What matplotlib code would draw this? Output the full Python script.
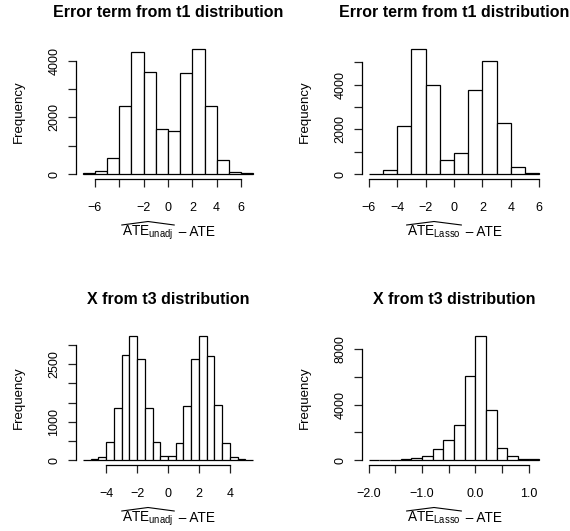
import matplotlib
matplotlib.use("Agg")
import matplotlib.pyplot as plt
from matplotlib.transforms import IdentityTransform
from matplotlib.lines import Line2D
import numpy as np

plt.rcParams['font.family'] = ['Liberation Sans', 'DejaVu Sans']
plt.rcParams['mathtext.fontset'] = 'custom'
plt.rcParams['mathtext.rm'] = 'Liberation Sans'
plt.rcParams['mathtext.it'] = 'Liberation Sans:italic'
plt.rcParams['axes.unicode_minus'] = True

# panel 1: error term t1, unadjusted
edges1 = [-7, -6, -5, -4, -3, -2, -1, 0, 1, 2, 3, 4, 5, 6, 7]
counts1 = [20, 90, 570, 2410, 4320, 3585, 1600, 1510, 3560, 4415, 2400, 510, 55, 20]
xt1 = [-6, -4, -2, 0, 2, 4, 6]
xl1 = ['\u22126', '', '\u22122', '0', '2', '4', '6']
yt1 = [0, 1000, 2000, 3000, 4000]
yl1 = ['0', '', '2000', '', '4000']

# panel 2: error term t1, lasso
edges2 = [-6, -5, -4, -3, -2, -1, 0, 1, 2, 3, 4, 5, 6]
counts2 = [15, 195, 2135, 5595, 3985, 630, 960, 3760, 5040, 2270, 300, 30]
xt2 = [-6, -4, -2, 0, 2, 4, 6]
xl2 = ['\u22126', '\u22124', '\u22122', '0', '2', '4', '6']
yt2 = [0, 1000, 2000, 3000, 4000, 5000]
yl2 = ['0', '', '2000', '', '4000', '']

# panel 3: X from t3, unadjusted
edges3 = [-5.5, -5, -4.5, -4, -3.5, -3, -2.5, -2, -1.5, -1, -0.5, 0,
          0.5, 1, 1.5, 2, 2.5, 3, 3.5, 4, 4.5, 5, 5.5]
counts3 = [10, 20, 90, 470, 1350, 2745, 3240, 2640, 1370, 470, 105,
           115, 455, 1400, 2650, 3240, 2710, 1445, 445, 70, 20, 10]
xt3 = [-4, -2, 0, 2, 4]
xl3 = ['\u22124', '\u22122', '0', '2', '4']
yt3 = [0, 500, 1000, 1500, 2000, 2500, 3000]
yl3 = ['0', '', '1000', '', '', '2500', '']

# panel 4: X from t3, lasso
edges4 = [-2.0, -1.8, -1.6, -1.4, -1.2, -1.0, -0.8, -0.6, -0.4, -0.2, 0.0,
          0.2, 0.4, 0.6, 0.8, 1.0, 1.2]
counts4 = [20, 5, 15, 40, 170, 310, 770, 1440, 2550, 6060, 8940, 3630,
           840, 265, 95, 50]
xt4 = [-2.0, -1.5, -1.0, -0.5, 0.0, 0.5, 1.0]
xl4 = ['\u22122.0', '', '\u22121.0', '', '0.0', '', '1.0']
yt4 = [0, 2000, 4000, 6000, 8000]
yl4 = ['0', '', '4000', '', '8000']

sub_unadj = 'unadj'
sub_lasso = 'Lasso'

panels = [
    (edges1, counts1, xt1, xl1, yt1, yl1, 'Error term from t1 distribution', sub_unadj, (76, 44, 260, 179)),
    (edges2, counts2, xt2, xl2, yt2, yl2, 'Error term from t1 distribution', sub_lasso, (362, 44, 546, 179)),
    (edges3, counts3, xt3, xl3, yt3, yl3, 'X from t3 distribution', sub_unadj, (76, 331, 260, 465)),
    (edges4, counts4, xt4, xl4, yt4, yl4, 'X from t3 distribution', sub_lasso, (362, 331, 546, 465)),
]

W, H = 570, 531
fig = plt.figure(figsize=(W / 100, H / 100), dpi=100)
xlabels = []

for edges, counts, xt, xl, yt, yl, title, sub, box in panels:
    l, t, r, b = box
    ax = fig.add_axes([l / W, 1 - b / H, (r - l) / W, (b - t) / H])
    edges = np.array(edges)
    ax.bar(edges[:-1], counts, width=np.diff(edges), align='edge',
           color='white', edgecolor='black', linewidth=0.9)
    pad = 0.04 * (edges[-1] - edges[0])
    ax.set_xlim(edges[0] - pad, edges[-1] + pad)
    ax.set_ylim(-0.04 * max(counts), 1.04 * max(counts))
    for s in ['top', 'right']:
        ax.spines[s].set_visible(False)
    ax.spines['bottom'].set_bounds(xt[0], xt[-1])
    ax.spines['left'].set_bounds(yt[0], yt[-1])
    for s in ['bottom', 'left']:
        ax.spines[s].set_linewidth(0.9)
    ax.set_xticks(xt)
    ax.set_xticklabels(xl)
    ax.set_yticks(yt)
    ax.set_yticklabels(yl, rotation=90, va='center')
    ax.tick_params(length=5.8, width=0.9, labelsize=9, color='#222222')
    ax.tick_params(axis='x', pad=10.5)
    ax.tick_params(axis='y', pad=5.5)
    ax.text(0.5, 1.235, title, transform=ax.transAxes, ha='center', va='center',
            fontsize=11.5, fontweight='bold')
    ax.text(-0.31, 0.5, 'Frequency', transform=ax.transAxes, ha='center',
            va='center', rotation=90, fontsize=9.5)

    # x label: hatted ATE with subscript, then " - ATE"; hat drawn by hand
    cx = (l + r) / 2
    base_y = H - (b + 57)
    t1 = fig.text(0, 0, r'$\mathrm{ATE}_{\mathrm{%s}}$' % sub, fontsize=9.8,
                  transform=IdentityTransform(), va='baseline')
    t2 = fig.text(0, 0, ' \u2013 ATE', fontsize=9.8,
                  transform=IdentityTransform(), va='baseline')
    xlabels.append((cx, base_y, t1, t2))

fig.canvas.draw()
rend = fig.canvas.get_renderer()
for cx, base_y, t1, t2 in xlabels:
    w1 = t1.get_window_extent(rend).width
    w2 = t2.get_window_extent(rend).width
    x0 = cx - (w1 + w2) / 2
    t1.set_position((x0, base_y))
    t2.set_position((x0 + w1 + 1, base_y))
    hy = base_y + 11
    fig.add_artist(Line2D([x0 - 0.5, x0 + w1 / 2, x0 + w1 + 0.5],
                          [hy, hy + 3.5, hy],
                          transform=IdentityTransform(), color='black',
                          linewidth=0.8))

fig.savefig('out.png', dpi=100)
